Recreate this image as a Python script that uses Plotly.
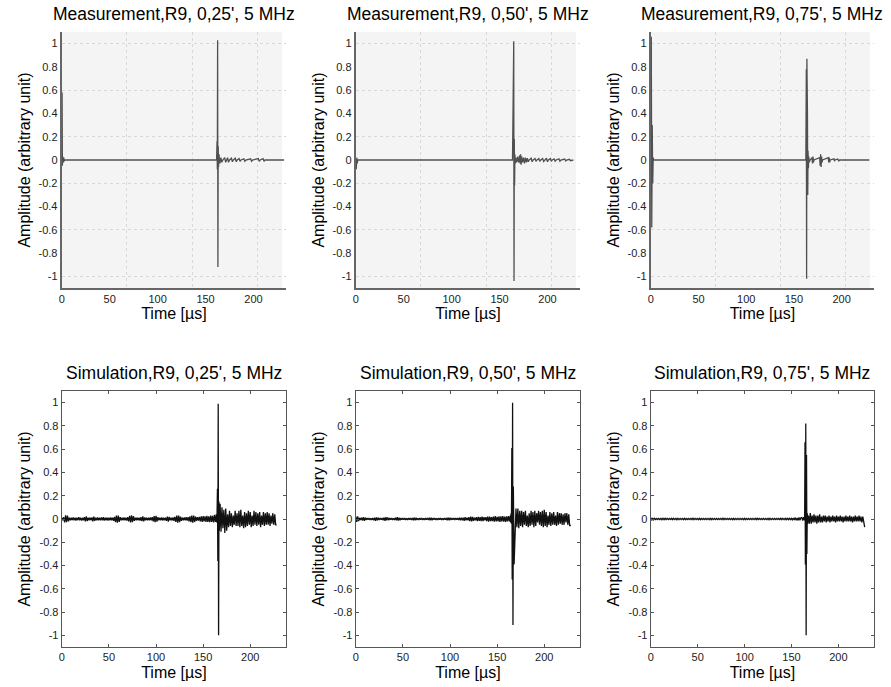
import plotly.graph_objects as go

W, H = 891, 687
FONT = "Liberation Sans, Arial, sans-serif"

titles = [
    "Measurement,R9, 0,25', 5 MHz",
    "Measurement,R9, 0,50', 5 MHz",
    "Measurement,R9, 0,75', 5 MHz",
    "Simulation,R9, 0,25', 5 MHz",
    "Simulation,R9, 0,50', 5 MHz",
    "Simulation,R9, 0,75', 5 MHz",
]
x_label = "Time [µs]"
y_label = "Amplitude (arbitrary unit)"
x_ticks = [0, 50, 100, 150, 200]
y_ticks = [-1, -0.8, -0.6, -0.4, -0.2, 0, 0.2, 0.4, 0.6, 0.8, 1]
y_ticktext = ["-1", "-0.8", "-0.6", "-0.4", "-0.2", "0", "0.2", "0.4", "0.6", "0.8", "1"]
meas_grid_x = [68, 136, 204]
meas_grid_y = [-1, -0.6, -0.2, 0.2, 0.6, 1]

# ---------------- Measurements (sparse echoes on a flat baseline) ----------------
t_m25 = [0, 0.3, 0.6, 1.0, 1.5, 2.0, 2.5, 3.0, 161.5, 162.0, 162.3, 162.6, 162.9, 163.2, 163.6,
         164.0, 165, 166, 167, 168, 170, 171, 172, 173, 174, 175, 177, 178, 179, 181, 182, 183,
         185, 186, 187, 190, 191, 192, 197, 198, 199, 205, 206, 207, 210, 211, 212, 232]
a_m25 = [0, 0.58, -0.05, 0.03, -0.02, 0.02, -0.01, 0, 0, 0.16, -0.08, 1.03, -0.92, 0.12, -0.06,
         0.05, -0.03, 0.02, -0.02, 0, 0.02, -0.02, 0, 0.02, -0.02, 0, 0.015, -0.015, 0, 0.015, -0.015, 0,
         0.012, -0.012, 0, 0.01, -0.01, 0, 0.01, -0.01, 0, 0.012, -0.012, 0, 0.012, -0.012, 0, 0]

t_m50 = [0, 0.5, 1.0, 1.5, 2.0, 163.5, 164.2, 164.5, 164.8, 165.1, 165.4, 165.7, 166, 166.5, 167,
         168, 169, 170, 171, 171.5, 172, 172.5, 173, 174, 175, 176, 177, 178, 179, 180, 181,
         183, 184, 185, 187, 188, 189, 191, 192, 193, 195, 196, 197, 199, 200, 201, 203, 204, 205,
         207, 208, 209, 212, 213, 214, 218, 219, 220, 223, 224, 227]
a_m50 = [0, -0.08, 0.02, -0.03, 0, 0, 0.52, -0.42, 1.02, -1.04, 0.18, -0.22, 0.05, -0.03, 0.02,
         -0.02, 0.03, -0.02, 0.04, -0.03, 0.05, -0.04, 0.03, -0.02, 0.02, -0.03, 0.02, -0.02, 0.015, -0.015, 0,
         0.015, -0.015, 0, 0.012, -0.012, 0, 0.012, -0.012, 0, 0.012, -0.012, 0, 0.015, -0.015, 0, 0.012, -0.012, 0,
         0.01, -0.01, 0, 0.01, -0.01, 0, 0.008, -0.008, 0, 0.006, -0.006, 0]

t_m75 = [0, 0.5, 1.0, 1.5, 2.0, 2.5, 3, 162.5, 163.0, 163.3, 163.6, 163.9, 164.2, 164.5, 164.8,
         165.2, 165.6, 166, 167, 169, 169.5, 170, 170.5, 171, 177, 177.5, 178, 178.5, 179, 179.5,
         180, 186, 186.5, 187, 187.5, 188, 192, 192.5, 193, 196, 197, 198, 229]
a_m75 = [0, 1.06, -0.58, 0.3, -0.2, 0.02, 0, 0, 0.78, -1.02, 0.87, -0.9, 0.4, -0.3, 0.08,
         -0.07, 0.03, -0.02, 0, 0.02, -0.03, 0.03, -0.02, 0, 0.02, -0.05, 0.05, -0.06, 0.03, -0.02,
         0, 0.02, -0.02, 0.02, -0.02, 0, 0.01, -0.01, 0, 0.008, -0.008, 0, 0]

# ---------------- Simulations (sampled traces) ----------------
# sample times before the main echo (µs)
t_sim_pre = [
    0, 1, 2, 3, 4, 5, 6, 7, 8, 9, 10, 11, 12, 13, 14, 15, 16, 17, 18, 19,
    20, 21, 22, 23, 24, 25, 26, 27, 28, 29, 30, 31, 32, 33, 34, 35, 36, 37, 38, 39,
    40, 41, 42, 43, 44, 45, 46, 47, 48, 49, 50, 51, 52, 53, 54, 55, 56, 57, 58, 59,
    60, 61, 62, 63, 64, 65, 66, 67, 68, 69, 70, 71, 72, 73, 74, 75, 76, 77, 78, 79,
    80, 81, 82, 83, 84, 85, 86, 87, 88, 89, 90, 91, 92, 93, 94, 95, 96, 97, 98, 99,
    100, 101, 102, 103, 104, 105, 106, 107, 108, 109, 110, 111, 112, 113, 114, 115, 116, 117, 118, 119,
    120, 121, 122, 123, 124, 125, 126, 127, 128, 129, 130, 131, 132, 133, 134, 135, 136, 137, 138, 139,
    140, 141, 142, 143, 144, 145, 146, 147, 148, 149, 150, 151, 152, 153, 154, 155, 156, 157, 158, 159,
    160]
# sample times around and after the main echo (µs)
t_sim_post = [
    161, 162, 163, 164, 164.4, 164.8, 165.2, 165.6, 166.0, 166.4, 166.8, 167.2,
    168, 169, 170, 171, 172, 173, 174, 175, 176, 177, 178, 179, 180, 181, 182, 183, 184, 185, 186, 187,
    188, 189, 190, 191, 192, 193, 194, 195, 196, 197, 198, 199, 200, 201, 202, 203, 204, 205, 206, 207,
    208, 209, 210, 211, 212, 213, 214, 215, 216, 217, 218, 219, 220, 221, 222, 223, 224, 225, 226, 227,
    228]

a_s25_pre = [
    0.01, -0.012, 0.015, -0.03, 0.032, -0.028, 0.03, -0.02, 0.012, -0.01,
    0.012, -0.01, 0.014, -0.012, 0.01, -0.013, 0.012, -0.01, 0.015, -0.012,
    0.012, -0.014, 0.01, -0.012, 0.015, -0.02, 0.022, -0.018, 0.012, -0.01,
    0.012, -0.012, 0.014, -0.02, 0.02, -0.015, 0.012, -0.01, 0.013, -0.012,
    0.01, -0.012, 0.014, -0.012, 0.015, -0.014, 0.012, -0.01, 0.012, -0.013,
    0.01, -0.012, 0.013, -0.011, 0.012, -0.015, 0.018, -0.028, 0.03, -0.032,
    0.03, -0.025, 0.015, -0.012, 0.01, -0.012, 0.013, -0.01, 0.012, -0.014,
    0.015, -0.02, 0.028, -0.03, 0.032, -0.028, 0.025, -0.015, 0.012, -0.01,
    0.012, -0.012, 0.01, -0.013, 0.015, -0.018, 0.022, -0.02, 0.014, -0.012,
    0.01, -0.012, 0.012, -0.01, 0.013, -0.012, 0.015, -0.02, 0.025, -0.028,
    0.026, -0.022, 0.015, -0.012, 0.01, -0.012, 0.013, -0.012, 0.01, -0.012,
    0.012, -0.015, 0.02, -0.022, 0.018, -0.012, 0.01, -0.012, 0.014, -0.015,
    0.018, -0.025, 0.03, -0.032, 0.03, -0.028, 0.02, -0.015, 0.012, -0.012,
    0.013, -0.012, 0.015, -0.014, 0.016, -0.02, 0.022, -0.028, 0.03, -0.032,
    0.03, -0.026, 0.02, -0.015, 0.016, -0.014, 0.018, -0.02, 0.022, -0.025,
    0.024, -0.02, 0.022, -0.025, 0.028, -0.025, 0.022, -0.028, 0.03, -0.025,
    0.028]
a_s25_post = [
    -0.03, 0.035, -0.025, 0.04, -0.03, 0.05, 0.26, -0.36, 0.99, -1.0, 0.15, -0.1,
    0.13, -0.11, 0.10, -0.08, 0.08, -0.12, 0.09, -0.10, 0.04, -0.07,
    0.07, -0.06, 0.05, -0.07, 0.03, -0.05, 0.07, -0.06, 0.05, -0.06,
    0.07, -0.07, 0.08, -0.06, 0.03, -0.08, 0.06, -0.07, 0.05, -0.06,
    0.07, -0.05, 0.06, -0.07, 0.03, -0.06, 0.07, -0.05, 0.06, -0.06,
    0.05, -0.05, 0.06, -0.07, 0.03, -0.05, 0.06, -0.06, 0.05, -0.05,
    0.06, -0.05, 0.05, -0.06, 0.03, -0.04, 0.05, -0.05, 0.04, -0.05,
    -0.05]

a_s50_pre = [
    0.02, -0.025, 0.022, -0.018, 0.01, -0.008, 0.01, -0.012, 0.015, -0.015,
    0.012, -0.008, 0.008, -0.007, 0.008, -0.008, 0.007, -0.008, 0.008, -0.01,
    0.012, -0.015, 0.014, -0.012, 0.01, -0.008, 0.008, -0.007, 0.008, -0.01,
    0.012, -0.015, 0.015, -0.012, 0.014, -0.01, 0.008, -0.007, 0.008, -0.008,
    0.007, -0.008, 0.01, -0.012, 0.015, -0.014, 0.012, -0.01, 0.008, -0.007,
    0.008, -0.007, 0.008, -0.008, 0.007, -0.008, 0.008, -0.007, 0.008, -0.008,
    0.008, -0.01, 0.012, -0.012, 0.01, -0.008, 0.007, -0.008, 0.008, -0.007,
    0.008, -0.008, 0.007, -0.008, 0.008, -0.007, 0.008, -0.008, 0.01, -0.012,
    0.012, -0.01, 0.008, -0.007, 0.008, -0.008, 0.007, -0.008, 0.008, -0.007,
    0.008, -0.008, 0.007, -0.008, 0.008, -0.007, 0.008, -0.01, 0.012, -0.012,
    0.01, -0.008, 0.008, -0.007, 0.008, -0.008, 0.008, -0.007, 0.008, -0.008,
    0.01, -0.012, 0.012, -0.01, 0.012, -0.015, 0.015, -0.012, 0.01, -0.012,
    0.015, -0.018, 0.02, -0.02, 0.018, -0.015, 0.012, -0.012, 0.015, -0.018,
    0.018, -0.015, 0.015, -0.018, 0.02, -0.018, 0.015, -0.012, 0.015, -0.018,
    0.02, -0.022, 0.02, -0.018, 0.015, -0.018, 0.02, -0.022, 0.025, -0.02,
    0.018, -0.02, 0.022, -0.025, 0.022, -0.02, 0.025, -0.022, 0.02, -0.025,
    0.022]
a_s50_post = [
    -0.02, 0.025, -0.02, 0.03, -0.03, 0.05, -0.04, 0.61, -0.52, 1.0, -0.91, 0.28,
    -0.39, -0.09, 0.09, -0.07, 0.09, -0.08, 0.07, -0.06, 0.07, -0.07,
    0.06, -0.05, 0.07, -0.06, 0.03, -0.07, 0.05, -0.06, 0.07, -0.05,
    0.06, -0.07, 0.07, -0.06, 0.05, -0.03, 0.07, -0.05, 0.06, -0.06,
    0.07, -0.07, 0.08, -0.06, 0.06, -0.07, 0.03, -0.05, 0.06, -0.06,
    0.05, -0.05, 0.06, -0.05, 0.03, -0.06, 0.06, -0.05, 0.05, -0.04,
    0.05, -0.05, 0.04, -0.05, 0.05, -0.03, 0.05, -0.05, 0.04, -0.06,
    -0.05]

a_s75_pre = [
    0.01, -0.012, 0.008, -0.006, 0.005, -0.005, 0.005, -0.005, 0.005, -0.005,
    0.005, -0.005, 0.006, -0.005, 0.005, -0.006, 0.005, -0.005, 0.005, -0.005,
    0.005, -0.005, 0.005, -0.006, 0.005, -0.005, 0.005, -0.005, 0.006, -0.005,
    0.005, -0.005, 0.005, -0.005, 0.005, -0.005, 0.006, -0.005, 0.005, -0.005,
    0.005, -0.005, 0.005, -0.005, 0.005, -0.006, 0.005, -0.005, 0.005, -0.005,
    0.005, -0.005, 0.006, -0.005, 0.005, -0.005, 0.005, -0.005, 0.005, -0.005,
    0.005, -0.005, 0.005, -0.005, 0.006, -0.005, 0.005, -0.005, 0.005, -0.005,
    0.005, -0.005, 0.005, -0.005, 0.005, -0.005, 0.005, -0.006, 0.005, -0.005,
    0.005, -0.005, 0.005, -0.005, 0.005, -0.005, 0.005, -0.005, 0.006, -0.005,
    0.005, -0.005, 0.005, -0.005, 0.005, -0.005, 0.005, -0.005, 0.005, -0.005,
    0.006, -0.005, 0.005, -0.005, 0.005, -0.005, 0.005, -0.005, 0.005, -0.005,
    0.005, -0.005, 0.005, -0.006, 0.005, -0.005, 0.005, -0.005, 0.005, -0.005,
    0.005, -0.005, 0.005, -0.005, 0.005, -0.005, 0.006, -0.005, 0.005, -0.005,
    0.005, -0.005, 0.005, -0.005, 0.005, -0.005, 0.005, -0.005, 0.005, -0.006,
    0.005, -0.005, 0.005, -0.005, 0.006, -0.005, 0.005, -0.006, 0.005, -0.005,
    0.006, -0.006, 0.008, -0.009, 0.012, -0.01, 0.008, -0.012, 0.014, -0.012,
    0.01]
a_s75_post = [
    0.012, -0.014, 0.015, -0.012, 0.66, -0.39, 0.82, -1.0, 0.55, -0.3, 0.05, -0.04,
    0.03, -0.04, 0.05, -0.04, 0.03, -0.03, 0.04, -0.03, 0.03, -0.04,
    0.03, -0.03, 0.04, -0.03, 0.02, -0.03, 0.03, -0.02, 0.03, -0.03,
    0.02, -0.02, 0.03, -0.03, 0.02, -0.02, 0.03, -0.02, 0.02, -0.03,
    0.03, -0.02, 0.02, -0.02, 0.03, -0.02, 0.02, -0.03, 0.02, -0.02,
    0.03, -0.02, 0.02, -0.02, 0.03, -0.02, 0.02, -0.03, 0.02, -0.02,
    0.03, -0.02, 0.02, -0.02, 0.03, -0.02, 0.02, -0.03, 0.02, -0.02,
    -0.07]

for arr in (a_s25_pre, a_s50_pre, a_s75_pre):
    assert len(arr) == len(t_sim_pre), len(arr)
for arr in (a_s25_post, a_s50_post, a_s75_post):
    assert len(arr) == len(t_sim_post), len(arr)
assert len(t_m25) == len(a_m25) and len(t_m50) == len(a_m50) and len(t_m75) == len(a_m75)

t_sim = t_sim_pre + t_sim_post
panels = [(t_m25, a_m25), (t_m50, a_m50), (t_m75, a_m75),
          (t_sim, a_s25_pre + a_s25_post), (t_sim, a_s50_pre + a_s50_post),
          (t_sim, a_s75_pre + a_s75_post)]

col_px = [(59, 284), (354, 579), (650, 874)]
row_px = [(32, 288), (391, 647)]
x_ranges = [[0, 234], [0, 238]]
y_range = [-1.1, 1.1]

fig = go.Figure()
shapes = []
annotations = []
layout_axes = {}

for i, (t, a) in enumerate(panels):
    r, c = divmod(i, 3)
    n = i + 1
    sfx = "" if n == 1 else str(n)
    meas = (r == 0)
    fig.add_trace(go.Scatter(
        x=t, y=a, mode="lines", xaxis="x" + sfx, yaxis="y" + sfx,
        line=dict(color="#505050" if meas else "#111111", width=1.3 if meas else 1.3),
        showlegend=False, hoverinfo="skip"))
    x0, x1 = col_px[c]
    y0, y1 = row_px[r]
    xdom = [x0 / W, x1 / W]
    ydom = [1 - y1 / H, 1 - y0 / H]
    tickfont = dict(family=FONT, size=11, color="#222222")
    titlefont = dict(family=FONT, size=16, color="#000000")
    xa = dict(domain=xdom, anchor="y" + sfx, range=x_ranges[r], tickmode="array",
              tickvals=x_ticks, tickfont=tickfont, showgrid=False, zeroline=False,
              title=dict(text=x_label, font=titlefont, standoff=4), showline=True)
    ya = dict(domain=ydom, anchor="x" + sfx, range=y_range, tickmode="array",
              tickvals=y_ticks, ticktext=y_ticktext, tickfont=tickfont, showgrid=False,
              zeroline=False, title=dict(text=y_label, font=titlefont, standoff=4), showline=True)
    if meas:
        xa.update(linecolor="#666666", linewidth=1.8, ticks="", mirror=False,
                  minor=dict(tickmode="array", tickvals=meas_grid_x, showgrid=True,
                             gridcolor="#d8d8d8", griddash="dot", gridwidth=1, ticks=""))
        ya.update(linecolor="#666666", linewidth=2.2, ticks="", mirror=False,
                  minor=dict(tickmode="array", tickvals=meas_grid_y, showgrid=True,
                             gridcolor="#d8d8d8", griddash="dot", gridwidth=1, ticks=""))
        shapes.append(dict(type="rect", xref="x" + sfx + " domain", yref="y" + sfx + " domain",
                           x0=0, x1=0.982, y0=0, y1=1, fillcolor="#f4f4f4",
                           line=dict(width=0), layer="below"))
    else:
        xa.update(linecolor="#555555", linewidth=1.3, ticks="inside", ticklen=3,
                  tickcolor="#555555", mirror="ticks")
        ya.update(linecolor="#555555", linewidth=1.3, ticks="inside", ticklen=3,
                  tickcolor="#555555", mirror="ticks")
    layout_axes["xaxis" + sfx] = xa
    layout_axes["yaxis" + sfx] = ya
    title_y = 14 if meas else 373
    annotations.append(dict(text=titles[i], x=(xdom[0] + xdom[1]) / 2, y=1 - title_y / H,
                            xref="paper", yref="paper", xanchor="center", yanchor="middle",
                            showarrow=False, font=dict(family=FONT, size=17.5, color="#000000")))

fig.update_layout(
    width=W, height=H, margin=dict(l=0, r=0, t=0, b=0),
    paper_bgcolor="white", plot_bgcolor="rgba(0,0,0,0)",
    font=dict(family=FONT), shapes=shapes, annotations=annotations,
    **layout_axes)

fig.write_html("out.html")
